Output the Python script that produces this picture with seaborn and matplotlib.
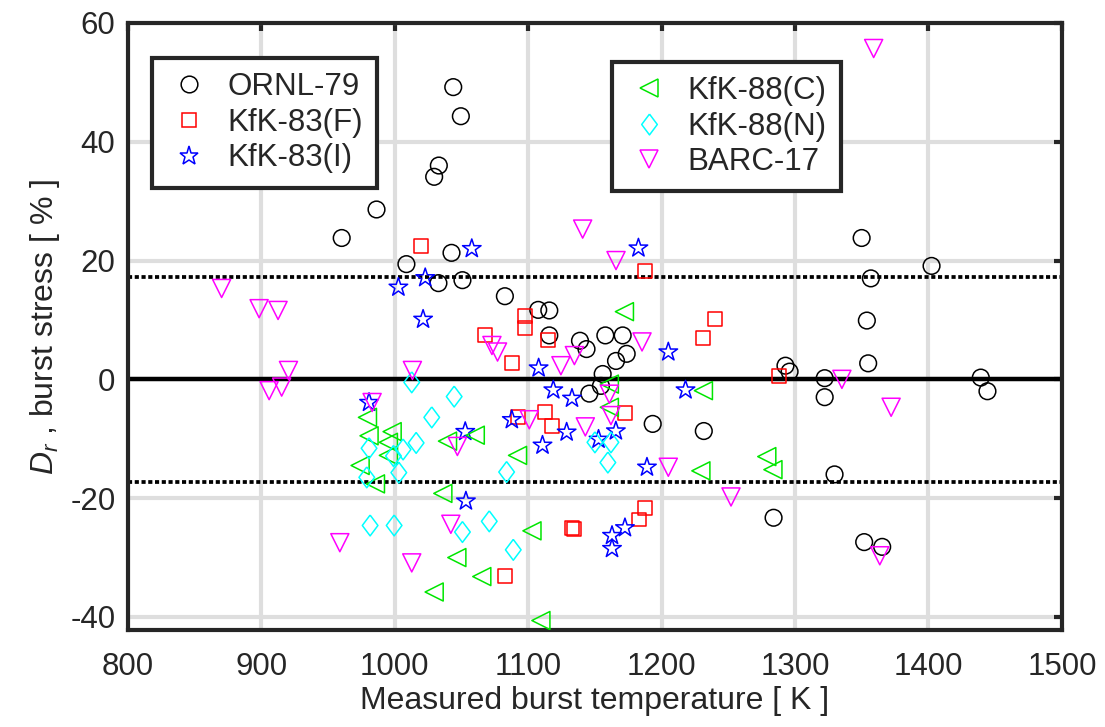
import pandas as pd
import seaborn as sns
import matplotlib.pyplot as plt
from matplotlib.lines import Line2D

# Data (temperature [K], D_r [%])
ornl79_T = [1043.8, 1049.5, 1033.0, 1029.5, 986.3, 960.2, 1042.5, 1008.7, 1032.7, 1050.7,
            1082.5, 1107.5, 1115.8, 1115.8, 1138.8, 1143.7, 1157.8, 1170.8, 1173.8, 1165.8,
            1155.8, 1154.5, 1145.8, 1193.3, 1231.6, 1349.9, 1402.3, 1356.8, 1353.8, 1354.8,
            1292.8, 1295.9, 1322.2, 1322.2, 1439.2, 1444.2, 1329.6, 1283.9, 1351.8, 1365.3]
ornl79_D = [49.2, 44.3, 36.0, 34.1, 28.6, 23.8, 21.3, 19.4, 16.2, 16.7,
            14.0, 11.7, 11.6, 7.4, 6.5, 5.1, 7.4, 7.4, 4.3, 3.1,
            0.9, -1.1, -2.4, -7.5, -8.7, 23.8, 19.1, 17.0, 9.9, 2.7,
            2.3, 1.3, 0.2, -3.0, 0.3, -2.0, -16.0, -23.3, -27.4, -28.2]

kfk83f_T = [1019.5, 1187.8, 1097.8, 1097.8, 1240.0, 1230.8, 1067.8, 1114.8, 1087.7, 1287.9,
            1112.5, 1172.8, 1092.6, 1117.8, 1132.8, 1134.6, 1182.8, 1187.8, 1082.8]
kfk83f_D = [22.4, 18.3, 10.6, 8.7, 10.1, 7.0, 7.5, 6.7, 2.7, 0.6,
            -5.5, -5.7, -6.4, -7.9, -25.0, -25.2, -23.6, -21.6, -33.1]

kfk83i_T = [1022.8, 1002.7, 1021.2, 1057.7, 1182.6, 1107.8, 1205.0, 1118.8, 1132.8, 1217.9,
            980.7, 1087.7, 1128.8, 1110.7, 1152.7, 1165.7, 1052.8, 1189.0, 1053.3, 1162.8,
            1162.8, 1172.5]
kfk83i_D = [17.1, 15.5, 10.1, 22.0, 22.1, 1.9, 4.6, -1.8, -3.2, -1.8,
            -3.9, -6.8, -8.9, -11.1, -10.1, -8.7, -8.8, -14.8, -20.5, -26.3,
            -28.5, -25.0]

kfk88c_T = [1172.1, 1231.3, 1160.8, 1160.8, 979.5, 980.7, 998.0, 995.2, 995.2, 974.0,
            985.5, 1036.0, 1039.5, 1060.3, 1092.0, 1229.4, 1102.8, 1046.5, 1065.2, 1029.5,
            1109.5, 1278.8, 1283.4]
kfk88c_D = [11.4, -1.9, -0.8, -4.7, -6.4, -9.5, -8.8, -10.6, -12.8, -14.5,
            -17.6, -19.2, -10.4, -9.4, -12.8, -15.4, -25.5, -30.0, -33.2, -35.8,
            -40.6, -13.0, -15.2]

kfk88n_T = [1012.7, 1044.5, 1027.7, 980.7, 1006.2, 1016.0, 999.0, 1003.0, 979.0, 981.5,
            999.5, 1150.0, 1162.0, 1159.7, 1083.8, 1070.8, 1050.7, 1088.8]
kfk88n_D = [-0.5, -2.9, -6.4, -11.6, -11.8, -10.7, -12.9, -15.7, -16.5, -24.6,
            -24.6, -10.6, -10.6, -14.0, -15.6, -23.9, -25.7, -28.7]

barc17_T = [1358.9, 1140.8, 1165.8, 870.2, 898.3, 912.5, 920.3, 905.8, 915.2, 1013.2,
            983.0, 1185.3, 1072.8, 1077.0, 1124.5, 1134.6, 1160.8, 1162.0, 1142.8, 1100.8,
            1046.9, 1205.0, 1252.0, 1042.0, 958.8, 1012.7, 1335.1, 1372.0, 1363.5]
barc17_D = [55.7, 25.3, 20.0, 15.3, 11.9, 11.6, 1.5, -1.9, -1.3, 1.5,
            -3.9, 6.3, 5.7, 4.6, 2.3, 4.0, -2.5, -6.1, -8.0, -6.8,
            -11.3, -14.8, -19.8, -24.4, -27.5, -30.9, 0.0, -4.7, -29.7]

band = 17.2  # dotted uncertainty band

# MATLAB-like diamond (wider than matplotlib's thin 'd')
diamond = [(0, 1), (0.75, 0), (0, -1), (-0.75, 0), (0, 1)]

series = [
    ("ORNL-79", ornl79_T, ornl79_D, "o", "black", 12),
    ("KfK-83(F)", kfk83f_T, kfk83f_D, "s", "red", 10),
    ("KfK-83(I)", kfk83i_T, kfk83i_D, "*", "blue", 14),
    ("KfK-88(C)", kfk88c_T, kfk88c_D, "<", "#00e600", 13),
    ("KfK-88(N)", kfk88n_T, kfk88n_D, diamond, "cyan", 15),
    ("BARC-17", barc17_T, barc17_D, "v", "magenta", 13),
]

sns.set_style("white")
plt.rcParams['font.family'] = ['Liberation Sans', 'DejaVu Sans']
plt.rcParams['mathtext.fontset'] = 'custom'
plt.rcParams['mathtext.rm'] = 'Liberation Sans'
plt.rcParams['mathtext.it'] = 'Liberation Sans:italic'
plt.rcParams['axes.unicode_minus'] = False

fig = plt.figure(figsize=(11.05, 7.27), dpi=100)
ax = fig.add_axes([0.1158, 0.1334, 0.8452, 0.835])

# Reference lines
ax.axhline(0, color='black', lw=3.2, zorder=2)
for yv in (band, -band):
    ax.axhline(yv, color='black', lw=2.7, ls=(0, (1.1, 0.7)), dash_capstyle='butt', zorder=2)

for name, T, D, mk, col, ms in series:
    df = pd.DataFrame({'T': T, 'D': D})
    sns.scatterplot(data=df, x='T', y='D', marker=mk, s=ms ** 2, facecolors='none',
                    edgecolor=col, linewidth=1.1, ax=ax, zorder=3)

ax.set_xlim(800, 1500)
ax.set_ylim(-42.2, 60)
ax.set_xticks(range(800, 1501, 100))
ax.set_yticks(range(-40, 61, 20))
ax.grid(True, color='#dedede', lw=3, zorder=0)
ax.set_axisbelow(True)

for sp in ax.spines.values():
    sp.set_linewidth(3)
    sp.set_color('#262626')
ax.tick_params(axis='both', direction='in', length=6, width=3, color='#262626',
               labelsize=22.5, labelcolor='#262626', top=True, right=True)
ax.tick_params(axis='x', pad=16)
ax.tick_params(axis='y', pad=9)

ax.set_xlabel("Measured burst temperature [ K ]", fontsize=23, color='#262626', labelpad=3)
ax.set_ylabel(r"$D_r$ , burst stress [ % ]", fontsize=23, color='#262626', labelpad=6)


def handles(items):
    return [Line2D([], [], ls='none', marker=mk, markersize=ms, markerfacecolor='none',
                   markeredgecolor=col, markeredgewidth=1.1, label=name)
            for name, T, D, mk, col, ms in items]


leg_kw = dict(loc='upper left', fontsize=22.5, frameon=True, fancybox=False, borderpad=0.45,
              labelspacing=0.18, handletextpad=0.5, handlelength=1.47, borderaxespad=0)
leg1 = ax.legend(handles=handles(series[:3]), bbox_to_anchor=(0.0257, 0.942), **leg_kw)
leg2 = ax.legend(handles=handles(series[3:]), bbox_to_anchor=(0.518, 0.936), **leg_kw)
for lg in (leg1, leg2):
    fr = lg.get_frame()
    fr.set_edgecolor('#262626')
    fr.set_linewidth(3)
    fr.set_alpha(1)
ax.add_artist(leg1)

plt.savefig('out.png', dpi=100)
